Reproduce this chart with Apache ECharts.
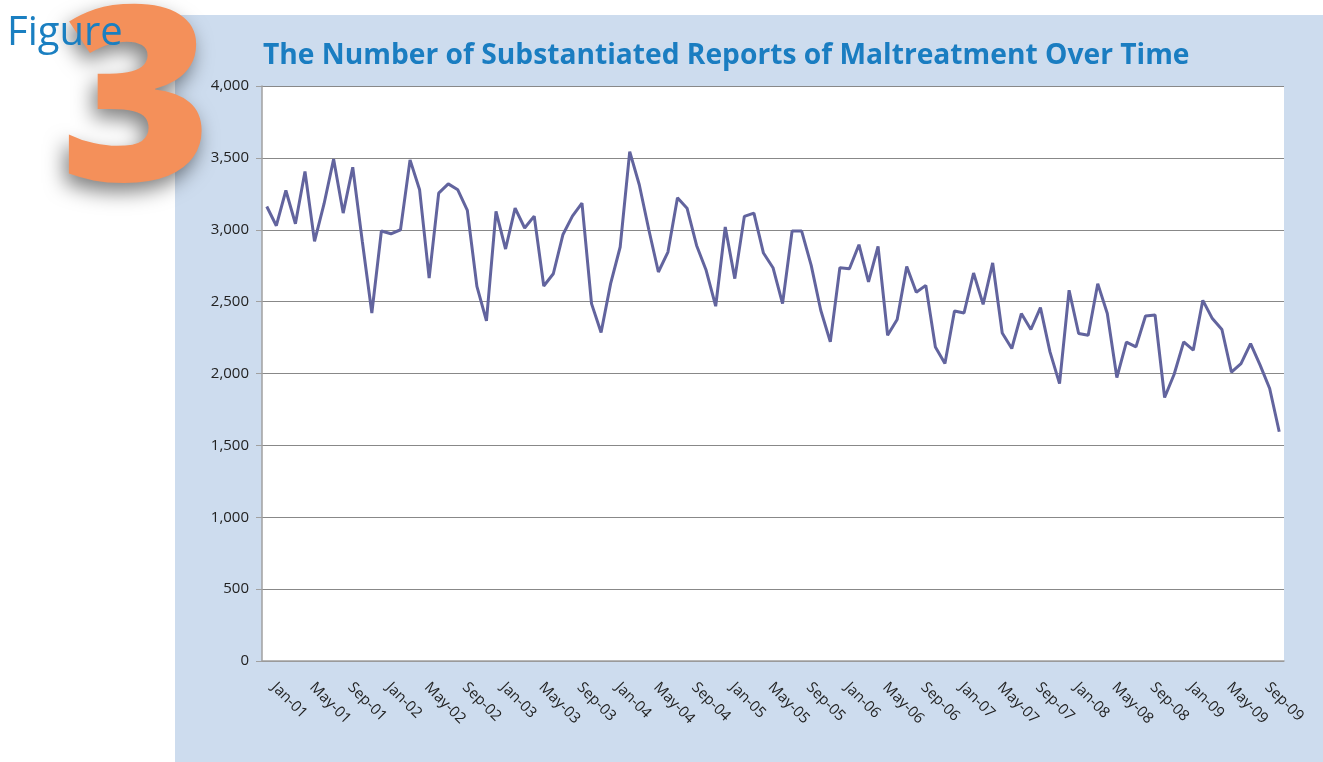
<!DOCTYPE html>
<html>
<head>
<meta charset="utf-8">
<title>Substantiated Reports of Maltreatment</title>
<script src="https://cdn.jsdelivr.net/npm/echarts@6/dist/echarts.min.js"></script>
<style>
  html, body { margin: 0; padding: 0; background: #fff; }
  #chart { width: 1323px; height: 762px; }
</style>
</head>
<body>
<div id="chart"></div>
<script>
// month labels, Jan-01 .. Nov-09
const monthNames = ['Jan', 'Feb', 'Mar', 'Apr', 'May', 'Jun', 'Jul', 'Aug', 'Sep', 'Oct', 'Nov', 'Dec']
const years = ['01', '02', '03', '04', '05', '06', '07', '08', '09']

// substantiated reports per month
const reports = [
  3162, 3028, 3273, 3042, 3405, 2919, 3181, 3491, 3116, 3435, 2920, 2421,
  2991, 2972, 3000, 3486, 3278, 2664, 3255, 3319, 3278, 3134, 2606, 2366,
  3127, 2866, 3150, 3012, 3095, 2609, 2694, 2965, 3095, 3185, 2486, 2285,
  2625, 2880, 3544, 3313, 3000, 2706, 2845, 3222, 3150, 2891, 2718, 2468,
  3019, 2660, 3093, 3116, 2838, 2736, 2486, 2991, 2991, 2752, 2440, 2220,
  2736, 2729, 2896, 2637, 2884, 2266, 2375, 2745, 2565, 2613, 2185, 2069,
  2435, 2421, 2699, 2481, 2769, 2282, 2174, 2417, 2306, 2458, 2150, 1930,
  2579, 2278, 2266, 2625, 2417, 1972, 2218, 2185, 2400, 2407, 1833, 1995,
  2220, 2162, 2509, 2382, 2306, 2009, 2069, 2208, 2058, 1896, 1595
]

const categories = []
years.forEach(y => {
  monthNames.forEach(m => {
    if (categories.length < reports.length) categories.push(m + '-' + y)
  })
})

const chart = echarts.init(document.getElementById('chart'))

const option = {
  animation: false,
  textStyle: { fontFamily: 'Open Sans, sans-serif' },
  graphic: [
    // light blue panel behind the chart
    {
      type: 'rect',
      z: -10,
      shape: { x: 175, y: 15, width: 1148, height: 747 },
      style: { fill: '#cddcee' },
      silent: true
    },
    // big "3"
    {
      type: 'text',
      z: 10,
      x: 60,
      y: -11,
      scaleX: 1.065,
      style: {
        text: '3',
        fill: '#f4905a',
        font: '800 244px "Open Sans", sans-serif',
        textAlign: 'left',
        textVerticalAlign: 'top',
        textShadowBlur: 20,
        textShadowColor: 'rgba(0, 0, 0, 0.5)',
        textShadowOffsetX: -4,
        textShadowOffsetY: 9
      },
      silent: true
    },
    {
      type: 'text',
      z: 11,
      left: 7,
      top: 14,
      style: {
        text: 'Figure',
        fill: '#1a7fc1',
        font: '40px "Open Sans", sans-serif'
      },
      silent: true
    },
    {
      type: 'text',
      z: 11,
      left: 263,
      top: 42,
      style: {
        text: 'The Number of Substantiated Reports of Maltreatment Over Time',
        fill: '#1a7dc1',
        font: 'bold 28.2px "Open Sans", sans-serif'
      },
      silent: true
    }
  ],
  grid: {
    left: 262,
    right: 39,
    top: 86,
    bottom: 101,
    show: true,
    backgroundColor: '#ffffff',
    borderWidth: 0
  },
  xAxis: {
    type: 'category',
    data: categories,
    boundaryGap: true,
    axisLine: { lineStyle: { color: '#a0a0a0', width: 1.5 } },
    axisTick: {
      interval: 3,
      length: 6,
      lineStyle: { color: '#a0a0a0' }
    },
    axisLabel: {
      interval: 3,
      rotate: -45,
      margin: 17,
      padding: [0, 0, 0, 10],
      fontSize: 15,
      color: '#222',
      fontFamily: 'Open Sans, sans-serif'
    },
    splitLine: { show: false }
  },
  yAxis: {
    type: 'value',
    min: 0,
    max: 4000,
    interval: 500,
    axisLine: { show: true, lineStyle: { color: '#a0a0a0', width: 1.5 } },
    axisTick: { show: true, length: 6, lineStyle: { color: '#a0a0a0' } },
    axisLabel: {
      margin: 13,
      fontSize: 15,
      color: '#222',
      formatter: v => v.toLocaleString('en-US')
    },
    splitLine: { lineStyle: { color: '#888888', width: 1 } }
  },
  series: [
    {
      name: 'Substantiated Reports',
      type: 'line',
      data: reports,
      symbol: 'none',
      lineStyle: { color: '#62649e', width: 3 },
      itemStyle: { color: '#62649e' }
    }
  ]
}

chart.setOption(option)
</script>
</body>
</html>
